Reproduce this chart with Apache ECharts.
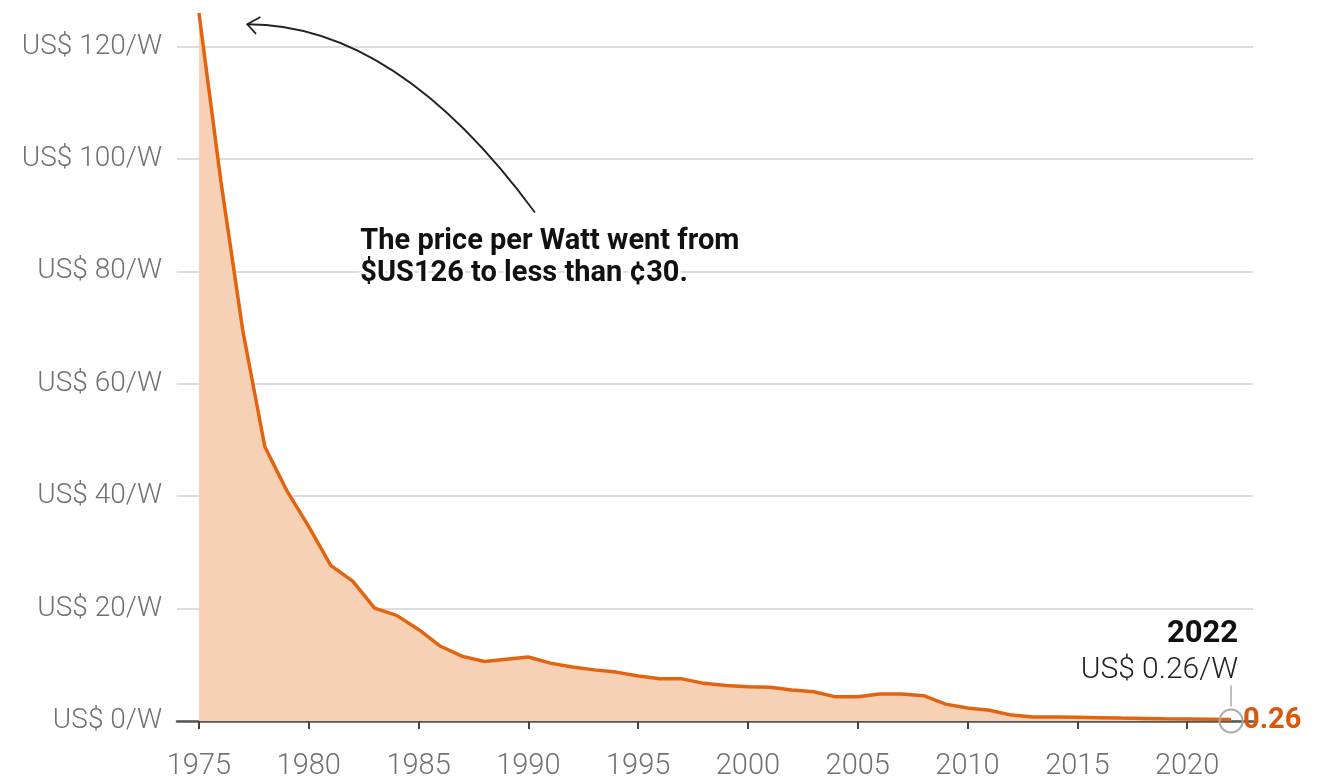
<!DOCTYPE html>
<html>
<head>
<meta charset="utf-8">
<script src="https://cdn.jsdelivr.net/npm/echarts@6/dist/echarts.min.js"></script>
<style>
html,body{margin:0;padding:0;background:#fff;}
#chart{width:1323px;height:781px;}
</style>
</head>
<body>
<div id="chart"></div>
<script>
const years = [1975,1976,1977,1978,1979,1980,1981,1982,1983,1984,1985,1986,1987,1988,1989,1990,1991,1992,1993,1994,1995,1996,1997,1998,1999,2000,2001,2002,2003,2004,2005,2006,2007,2008,2009,2010,2011,2012,2013,2014,2015,2016,2017,2018,2019,2020,2021,2022];
const prices = [126,96,69.4,48.8,41,34.6,27.7,24.9,20.1,18.8,16.3,13.3,11.5,10.6,11.0,11.4,10.3,9.6,9.1,8.7,8.0,7.5,7.5,6.7,6.3,6.1,6.0,5.5,5.2,4.3,4.3,4.8,4.8,4.5,3.0,2.3,1.9,1.05,0.72,0.7,0.66,0.6,0.52,0.45,0.38,0.34,0.3,0.26];
const xTickYears = [1975,1980,1985,1990,1995,2000,2005,2010,2015,2020];
const yTickValues = [0,20,40,60,80,100,120];
const annotationLines = ['The price per Watt went from', '$US126 to less than ¢30.'];
const endYearLabel = '2022';
const endValueLabel = 'US$ 0.26/W';
const endShortLabel = '0.26';

const LINE = '#e2640f';
const AREA = '#f6d1b6';
const GRAY = '#717171';
const FONT = 'Roboto, "Noto Sans", sans-serif';

const chart = echarts.init(document.getElementById('chart'), null, {renderer: 'canvas'});
const seriesData = years.map((y, i) => [y, prices[i]]);

const option = {
  animation: false,
  backgroundColor: '#fff',
  grid: {left: 177, right: 70, top: 13, bottom: 57, containLabel: false},
  xAxis: {
    type: 'value', min: 1974, max: 2023,
    axisLine: {show: true, lineStyle: {color: '#555', width: 2.5}},
    axisTick: {show: true, customValues: xTickYears, length: 8, lineStyle: {color: '#444', width: 2}},
    axisLabel: {customValues: xTickYears, color: GRAY, fontFamily: FONT, fontWeight: 300, fontSize: 29, margin: 31,
      formatter: v => String(v)},
    splitLine: {show: false}
  },
  yAxis: {
    type: 'value', min: 0, max: 126,
    axisLine: {show: false},
    axisTick: {show: false, customValues: yTickValues},
    axisLabel: {customValues: yTickValues, color: GRAY, fontFamily: FONT, fontWeight: 300, fontSize: 28, margin: 15,
      formatter: v => 'US$ ' + v + '/W'},
    splitLine: {show: true, lineStyle: {color: '#dcdcdc', width: 2}}
  },
  series: [{
    type: 'line',
    data: seriesData,
    symbol: 'none',
    lineStyle: {color: LINE, width: 3.5},
    areaStyle: {color: AREA, opacity: 1},
    z: 3
  }]
};
chart.setOption(option);

function px(x, y) { return chart.convertToPixel({gridIndex: 0}, [x, y]); }

const lastYear = years[years.length - 1];
const lastVal = prices[prices.length - 1];
const endPt = px(lastYear, lastVal);
const axisPt = px(lastYear, 0);

// arrow anchored in data space
const tail = px(1990.3, 90.5);
const tip = px(1977.2, 124.0);
const ctrl = px(1984.0, 124.0);
const arm1 = px(1977.8, 125.3);
const arm2 = px(1977.6, 122.3);
const txt = px(1982.35, 82.4);

chart.setOption({
  graphic: [
    {type: 'bezierCurve', silent: true, z: 10,
      shape: {x1: tail[0], y1: tail[1], cpx1: ctrl[0], cpy1: ctrl[1], x2: tip[0], y2: tip[1]},
      style: {stroke: '#222', lineWidth: 1.8, fill: null}},
    {type: 'polyline', silent: true, z: 10,
      shape: {points: [arm1, tip, arm2]},
      style: {stroke: '#222', lineWidth: 1.8, fill: null}},
    {type: 'text', silent: true, z: 10, x: txt[0], y: txt[1],
      style: {text: annotationLines.join('\n'), font: `bold 29px ${FONT}`, fill: '#111',
        lineHeight: 32, textAlign: 'left', textVerticalAlign: 'middle',
        stroke: '#fff', lineWidth: 5}},
    {type: 'text', silent: true, z: 10, x: endPt[0] + 7, y: endPt[1] - 85,
      style: {text: endYearLabel, font: `bold 31px ${FONT}`, fill: '#111', textAlign: 'right', textVerticalAlign: 'middle'}},
    {type: 'text', silent: true, z: 10, x: endPt[0] + 7, y: endPt[1] - 49,
      style: {text: endValueLabel, font: `300 30px ${FONT}`, fill: '#222', textAlign: 'right', textVerticalAlign: 'middle'}},
    {type: 'line', silent: true, z: 10,
      shape: {x1: endPt[0], y1: endPt[1] - 34, x2: endPt[0], y2: endPt[1] - 13},
      style: {stroke: '#aaa', lineWidth: 1.5}},
    {type: 'circle', silent: true, z: 10,
      shape: {cx: axisPt[0], cy: axisPt[1], r: 11.5},
      style: {stroke: '#aaa', lineWidth: 2, fill: null}},
    {type: 'text', silent: true, z: 10, x: endPt[0] + 12, y: endPt[1] + 1,
      style: {text: endShortLabel, font: `bold 29px ${FONT}`, fill: '#d9580b', textAlign: 'left', textVerticalAlign: 'middle'}}
  ]
});
</script>
</body>
</html>
